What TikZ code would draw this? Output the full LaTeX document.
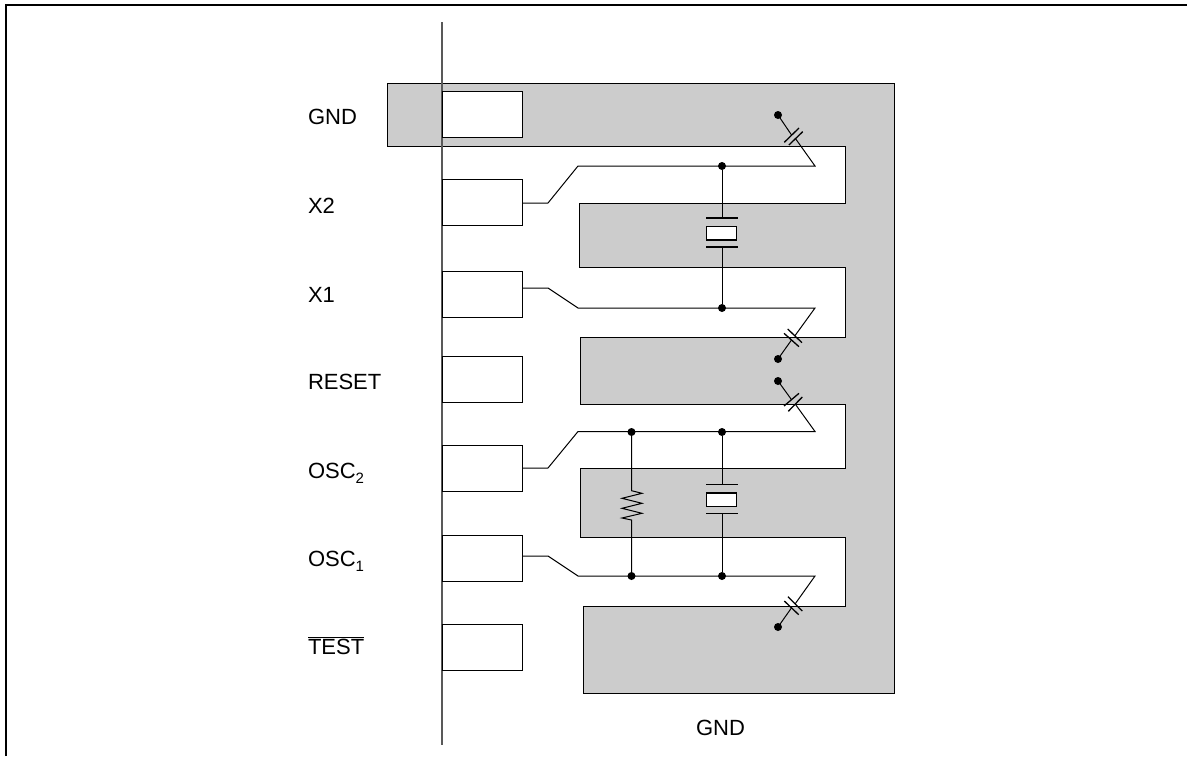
\documentclass[tikz,border=0pt]{standalone}
\usepackage{fontspec}
\setmainfont{Liberation Sans}
\tikzset{
  pad/.style={draw=black,fill=white,line width=1pt,minimum width=80pt,minimum height=46pt,inner sep=0pt,outer sep=0pt},
  crystalbox/.style={draw=black,fill=white,line width=1.2pt,minimum width=30pt,minimum height=13.5pt,inner sep=0pt,outer sep=0pt},
  dot/.style={circle,fill=black,draw=none,minimum size=8pt,inner sep=0pt,outer sep=0pt},
  wire/.style={draw=black,line width=1pt,line join=miter},
  plate/.style={draw=black,line width=1.3pt},
  shapeline/.style={draw=black,line width=1pt},
  lab/.style={anchor=base west,inner sep=0pt,outer sep=0pt,font=\fontsize{22pt}{24pt}\selectfont,text=black}
}
\newcommand{\subnum}[1]{\raisebox{-5pt}{\fontsize{15pt}{15pt}\selectfont #1}}
\begin{document}
\begin{tikzpicture}[x=1pt,y=-1pt]
\useasboundingbox (0,0) rectangle (1187,756);
% frame (only top and left visible)
\draw[black,line width=1.3pt] (6,756) -- (6,5) -- (1187,5);
% grey serpentine ground plane
\filldraw[fill=black!20,shapeline] (387,83) -- (894,83) -- (894,693) -- (583,693) -- (583,606) -- (845,606)
  -- (845,537) -- (580,537) -- (580,468) -- (845,468) -- (845,404) -- (580,404) -- (580,337) -- (845,337)
  -- (845,267) -- (579,267) -- (579,203) -- (845,203) -- (845,146) -- (387,146) -- cycle;
% package edge
\draw[black!65,line width=1.2pt] (442,22) -- (442,745);
% pads
\node[pad] (pGND) at (482,114.5) {};
\node[pad] (pXtwo) at (482,202.5) {};
\node[pad] (pXone) at (482,294) {};
\node[pad] (pRESET) at (482,379.5) {};
\node[pad] (pOSCtwo) at (482,468.5) {};
\node[pad] (pOSCone) at (482,558) {};
\node[pad] (pTEST) at (482,647.5) {};
% labels
\node[lab] (lGND) at (308,124) {GND};
\node[lab] (lXtwo) at (308,213) {X2};
\node[lab] (lXone) at (308,302) {X1};
\node[lab] (lRESET) at (308,389) {RESET};
\node[lab] (lOSCtwo) at (308,478) {OSC\subnum{2}};
\node[lab] (lOSCone) at (308,566) {OSC\subnum{1}};
\node[lab] (lTEST) at (308,654) {$\overline{\mbox{TEST}}$};
\node[lab] (lGNDb) at (696,735) {GND};
% junction dots
\node[dot] (dXtwo) at (722,166) {};
\node[dot] (dXone) at (722,308) {};
\node[dot] (dOSCtwoR) at (631.5,432) {};
\node[dot] (dOSCtwoC) at (722,432) {};
\node[dot] (dOSConeR) at (631.5,576) {};
\node[dot] (dOSConeC) at (722,576) {};
% capacitor free-end dots
\node[dot] (capA) at (778,115) {};
\node[dot] (capB) at (778,359) {};
\node[dot] (capC) at (778,381) {};
\node[dot] (capD) at (778,627) {};
% wire corner points
\coordinate (xtwoA) at (548,203);
\coordinate (xtwoB) at (578,166);
\coordinate (xtwoC) at (815,166);
\coordinate (xoneA) at (548,288);
\coordinate (xoneB) at (578,308);
\coordinate (xoneC) at (815,308);
\coordinate (osctwoA) at (548,468);
\coordinate (osctwoB) at (578,431.5);
\coordinate (osctwoC) at (815,431.5);
\coordinate (osconeA) at (548,556);
\coordinate (osconeB) at (578,576);
\coordinate (osconeC) at (815,576);
% plate mid points, wire side and dot side
\coordinate (capAw) at (795.3,138.35);
\coordinate (capAd) at (791.65,135.15);
\coordinate (capBw) at (794.85,335.85);
\coordinate (capBd) at (791.5,340);
\coordinate (capCw) at (795.3,404.15);
\coordinate (capCd) at (791.5,399.65);
\coordinate (capDw) at (795.15,603.85);
\coordinate (capDd) at (791.5,607.85);
% wires
\draw[wire] (pXtwo.east |- xtwoA) -- (xtwoA) -- (xtwoB) -- (xtwoC) -- (capAw);
\draw[wire] (capAd) -- (capA.center);
\draw[wire] (pXone.east |- xoneA) -- (xoneA) -- (xoneB) -- (xoneC) -- (capBw);
\draw[wire] (capBd) -- (capB.center);
\draw[wire] (pOSCtwo.east |- osctwoA) -- (osctwoA) -- (osctwoB) -- (osctwoC) -- (capCw);
\draw[wire] (capCd) -- (capC.center);
\draw[wire] (pOSCone.east |- osconeA) -- (osconeA) -- (osconeB) -- (osconeC) -- (capDw);
\draw[wire] (capDd) -- (capD.center);
% capacitor plates
\draw[plate] (784.3,142.3) -- (799,128);
\draw[plate] (788.9,145) -- (802.7,131.7);
\draw[plate] (784,333.3) -- (799,346.7);
\draw[plate] (787.7,329) -- (802,342.7);
\draw[plate] (784,406) -- (799,393.3);
\draw[plate] (788.3,411.3) -- (802.3,397);
\draw[plate] (784.3,601) -- (798.7,614.7);
\draw[plate] (788,596.7) -- (802.3,611);
% upper crystal
\node[crystalbox] (xtalA) at (721.5,233.3) {};
\coordinate (xtalAtop) at (722,218);
\coordinate (xtalAbot) at (722,247);
\draw[wire] (dXtwo) -- (xtalAtop);
\draw[wire] (xtalAbot) -- (dXone);
\draw[plate] (706,218) -- (738,218);
\draw[plate] (706,247) -- (738,247);
% lower crystal
\node[crystalbox] (xtalB) at (721.5,499.8) {};
\coordinate (xtalBtop) at (722,484.7);
\coordinate (xtalBbot) at (722,513.7);
\draw[wire] (dOSCtwoC) -- (xtalBtop);
\draw[wire] (xtalBbot) -- (dOSConeC);
\draw[plate] (706,484.7) -- (738,484.7);
\draw[plate] (706,513.7) -- (738,513.7);
% resistor
\draw[wire] (dOSCtwoR) -- (631.5,490.7) -- (642,493.3) -- (622,498.3) -- (642,503.3) -- (622,508.3)
  -- (642,513.3) -- (622,518) -- (631.5,520) -- (dOSConeR);
\end{tikzpicture}
\end{document}
